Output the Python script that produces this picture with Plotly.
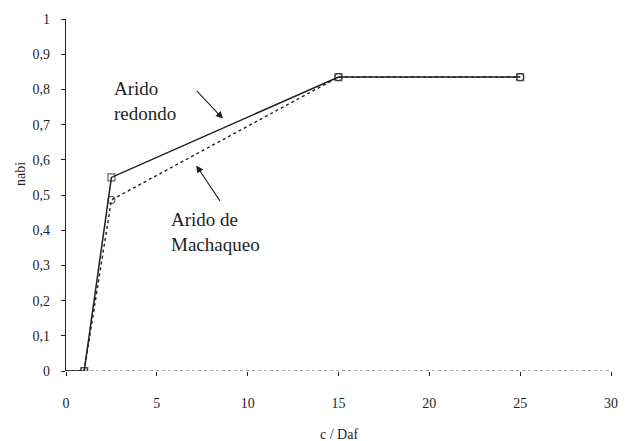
import plotly.graph_objects as go

# Data
c_daf = [0, 1, 2.5, 15, 25]
nabi_redondo = [0, 0, 0.55, 0.835, 0.835]
nabi_machaqueo = [0, 0, 0.486, 0.835, 0.835]

x_ticks = [0, 5, 10, 15, 20, 25, 30]
y_ticks = [0, 0.1, 0.2, 0.3, 0.4, 0.5, 0.6, 0.7, 0.8, 0.9, 1]

FONT = "Liberation Serif"
INK = "#1e1e1e"

fig = go.Figure()

msize = [0] + [7] * (len(c_daf) - 1)

fig.add_trace(go.Scatter(
    x=c_daf, y=nabi_machaqueo, mode="lines+markers",
    line=dict(color=INK, width=1.4, dash="dot"),
    marker=dict(symbol="circle-open", size=msize, color=INK, line=dict(width=1.2)),
    showlegend=False,
))
fig.add_trace(go.Scatter(
    x=c_daf, y=nabi_redondo, mode="lines+markers",
    line=dict(color=INK, width=1.5),
    marker=dict(symbol="square-open", size=msize, color=INK, line=dict(width=1.2)),
    showlegend=False,
))

fig.update_layout(
    width=630, height=441,
    margin=dict(l=66, r=12, t=18, b=70),
    paper_bgcolor="white", plot_bgcolor="white",
    separators=",.",
    font=dict(family=FONT, size=14, color=INK),
    xaxis=dict(
        range=[0, 30], tickvals=x_ticks, showgrid=False, zeroline=False,
        showline=False, ticks="outside", ticklen=4, tickcolor=INK,
        ticklabelstandoff=15, tickfont=dict(family=FONT, size=14),
    ),
    yaxis=dict(
        range=[0, 1], tickvals=y_ticks, showgrid=False, zeroline=False,
        showline=True, linecolor=INK, linewidth=1.2,
        ticks="outside", ticklen=4, tickcolor=INK,
        ticklabelstandoff=8, tickfont=dict(family=FONT, size=14),
    ),
    shapes=[dict(type="line", xref="x domain", yref="y", x0=0, x1=1, y0=0, y1=0,
                 line=dict(color="#555555", width=1.2, dash="dot"), layer="below")],
)

annotations = [
    dict(text="c / Daf", xref="paper", yref="paper", x=0.5, y=0, yanchor="middle",
         yshift=-63, showarrow=False, font=dict(family=FONT, size=14)),
    dict(text="nabi", xref="paper", yref="paper", x=0, y=0.56, xanchor="center",
         xshift=-45, textangle=-90, showarrow=False, font=dict(family=FONT, size=14)),
    dict(text="Arido<br>redondo", x=2.55, y=0.766, xref="x", yref="y",
         xanchor="left", yanchor="middle", align="left", showarrow=False,
         font=dict(family=FONT, size=19)),
    dict(text="Arido de<br>Machaqueo", x=5.65, y=0.395, xref="x", yref="y",
         xanchor="left", yanchor="middle", align="left", showarrow=False,
         font=dict(family=FONT, size=19)),
    dict(text="", x=8.64, y=0.717, ax=7.12, ay=0.80, xref="x", yref="y",
         axref="x", ayref="y", showarrow=True, arrowhead=2, arrowsize=1.3,
         arrowwidth=1.1, arrowcolor=INK),
    dict(text="", x=7.17, y=0.584, ax=8.53, ay=0.479, xref="x", yref="y",
         axref="x", ayref="y", showarrow=True, arrowhead=2, arrowsize=1.3,
         arrowwidth=1.1, arrowcolor=INK),
]
fig.update_layout(annotations=annotations)

fig.write_html("out.html", config={"displayModeBar": False},
               post_script="document.body.style.margin='0';document.body.style.padding='0';")
